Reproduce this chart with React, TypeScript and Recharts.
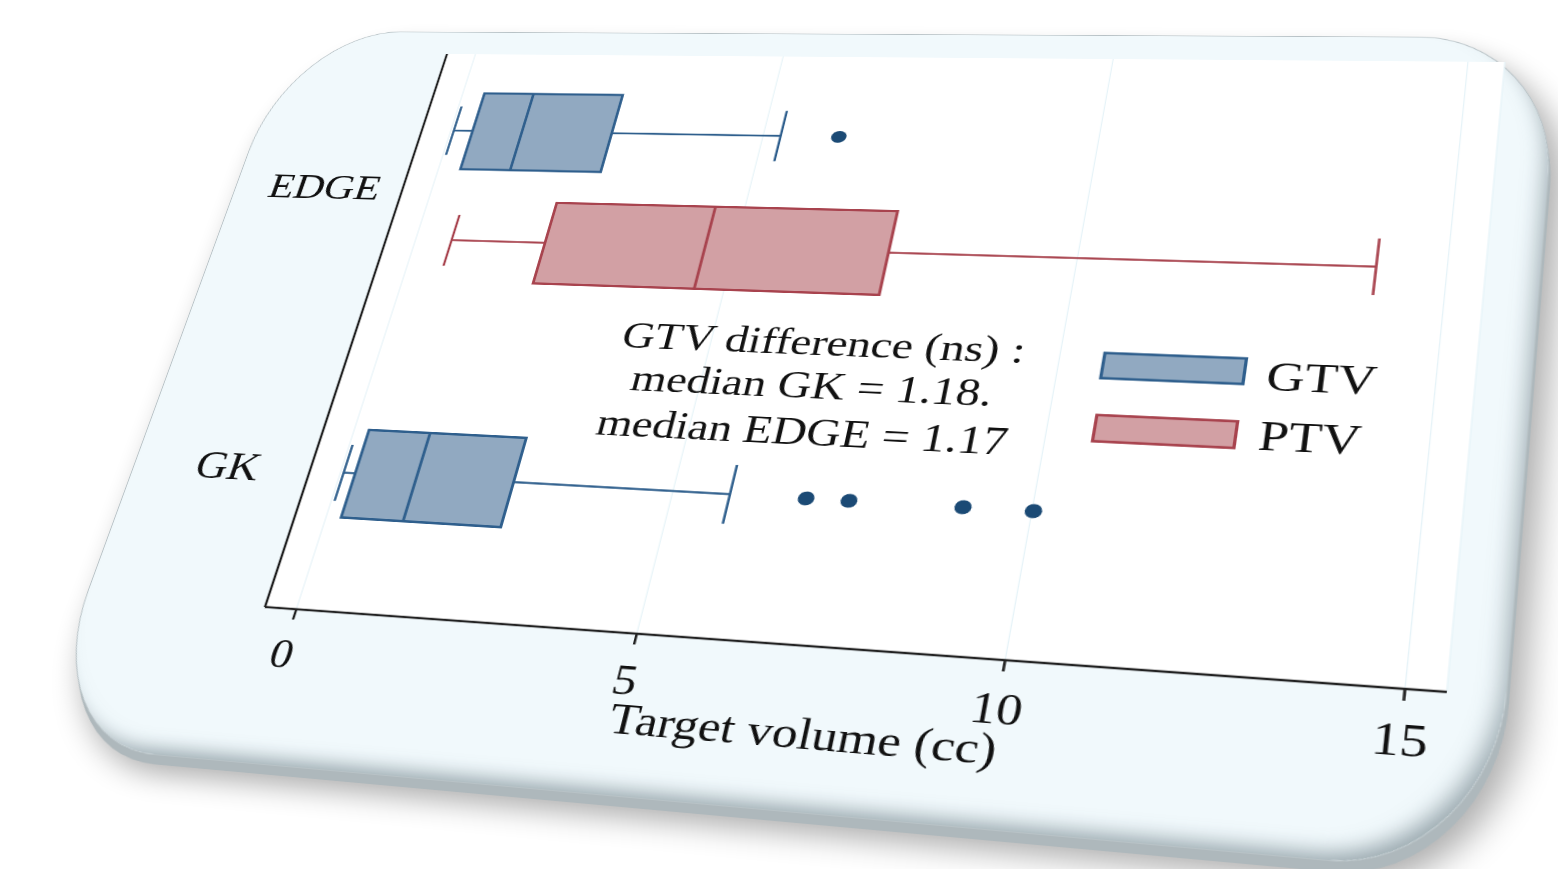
import React from 'react';
import { ComposedChart, Bar, XAxis, YAxis, CartesianGrid } from 'recharts';

// ---------------- data ----------------
const categories = ['EDGE_GTV', 'EDGE_PTV', 'GAP', 'GK_GTV'];
const categoryLabels = ['EDGE', '', '', 'GK'];
const labelShiftBands = [0.55, 0, 0, 0];
const seriesOf = ['GTV', 'PTV', '', 'GTV'];
const whiskerLow: (number | null)[] = [0.05, 0.58, null, 0.05];
const quartile1: (number | null)[] = [0.36, 2.07, null, 0.23];
const medians: (number | null)[] = [1.17, 4.55, null, 1.18];
const quartile3: (number | null)[] = [2.62, 7.29, null, 2.65];
const whiskerHigh: (number | null)[] = [5.27, 14.07, null, 5.82];
const outliers: number[][] = [[6.16], [], [], [6.9, 7.5, 9.07, 10.02]];
const xTicks = [0, 5, 10, 15];
const xDomain = [-0.48, 15.5];
const legendNames = ['GTV', 'PTV'];
const noteLines = ['GTV difference (ns) :', 'median GK = 1.18.', 'median EDGE = 1.17'];
const xTitle = 'Target volume (cc)';

const rows = categories.map((key, i) => ({
  key,
  series: seriesOf[i],
  range: whiskerLow[i] == null ? null : [whiskerLow[i], whiskerHigh[i]],
  q1: quartile1[i],
  median: medians[i],
  q3: quartile3[i],
  outliers: outliers[i],
}));

// ---------------- style ----------------
const FONT = '"Liberation Serif", "Times New Roman", serif';
const COLORS: Record<string, { fill: string; line: string }> = {
  GTV: { fill: '#91a9c1', line: '#2f5f8d' },
  PTV: { fill: '#d2a0a4', line: '#a8434e' },
};
const DOT = '#1b4a75';
const CARD_BG = '#f1f9fc';

// flat layout (before perspective)
const PL = 260, PT = 60, PW = 1100, PH = 730;
const YW = 200, XH = 80;
const FW = PL + PW + 160, FH = PT + PH + XH + 120;
const PAD_TOP = 35, PAD_BOTTOM = 89;
const BAND = (PH - PAD_TOP - PAD_BOTTOM) / categories.length;
const BAR = 108;
const YLABEL_GAP = 89;

// perspective: plot corners on screen
const screenPlot = [[447, 54], [1505, 62], [1447, 692], [265, 607]];
const flatPlot = [[PL, PT], [PL + PW, PT], [PL + PW, PT + PH], [PL, PT + PH]];
const screenCard = [[290, 32], [1558, 37], [1492, 860], [30, 753]];
const screenNotes = [[817, 355], [806, 398], [795, 444]];
const screenLegendBoxes = [[[1105, 353], [1243, 384]], [[1097, 415], [1234, 448]]];
const screenLegendText = [[1265, 390], [1257, 450]];

function solve(A: number[][], b: number[]): number[] {
  const n = b.length;
  const M = A.map((r, i) => [...r, b[i]]);
  for (let c = 0; c < n; c++) {
    let p = c;
    for (let r = c + 1; r < n; r++) if (Math.abs(M[r][c]) > Math.abs(M[p][c])) p = r;
    const t = M[c]; M[c] = M[p]; M[p] = t;
    for (let r = 0; r < n; r++) {
      if (r === c) continue;
      const f = M[r][c] / M[c][c];
      for (let k = c; k <= n; k++) M[r][k] -= f * M[c][k];
    }
  }
  return M.map((r, i) => r[n] / r[i]);
}
function homography(src: number[][], dst: number[][]): number[] {
  const A: number[][] = [];
  const b: number[] = [];
  for (let i = 0; i < 4; i++) {
    const [x, y] = src[i];
    const [u, v] = dst[i];
    A.push([x, y, 1, 0, 0, 0, -x * u, -y * u]); b.push(u);
    A.push([0, 0, 0, x, y, 1, -x * v, -y * v]); b.push(v);
  }
  return [...solve(A, b), 1];
}
function apply(H: number[], p: number[]): number[] {
  const w = H[6] * p[0] + H[7] * p[1] + H[8];
  return [(H[0] * p[0] + H[1] * p[1] + H[2]) / w, (H[3] * p[0] + H[4] * p[1] + H[5]) / w];
}
const Hs = homography(flatPlot, screenPlot);
const Hinv = homography(screenPlot, flatPlot);
const MATRIX = `matrix3d(${Hs[0]},${Hs[3]},0,${Hs[6]},${Hs[1]},${Hs[4]},0,${Hs[7]},0,0,1,0,${Hs[2]},${Hs[5]},0,1)`;

const cardF = screenCard.map((p) => apply(Hinv, p));
const cardLeft = (cardF[0][0] + cardF[3][0]) / 2;
const cardRight = (cardF[1][0] + cardF[2][0]) / 2;
const cardTop = (cardF[0][1] + cardF[1][1]) / 2;
const cardBottom = (cardF[2][1] + cardF[3][1]) / 2;
const notesF = screenNotes.map((p) => apply(Hinv, p));
const legendBoxesF = screenLegendBoxes.map(([a, b]) => [apply(Hinv, a), apply(Hinv, b)]);
const legendTextF = screenLegendText.map((p) => apply(Hinv, p));

// ---------------- marks ----------------
const BoxShape = (props: any) => {
  const { x, y, width, height, payload } = props;
  if (!payload || !payload.range) return null;
  const [lo, hi] = payload.range as number[];
  const k = width / (hi - lo);
  const px = (v: number) => x + (v - lo) * k;
  const cy = y + height / 2;
  const c = COLORS[payload.series];
  const cap = height * 0.32;
  const xq1 = px(payload.q1);
  const xq3 = px(payload.q3);
  const xm = px(payload.median);
  return (
    <g>
      <line x1={px(lo)} x2={xq1} y1={cy} y2={cy} stroke={c.line} strokeWidth={2.5} />
      <line x1={xq3} x2={px(hi)} y1={cy} y2={cy} stroke={c.line} strokeWidth={2.5} />
      <line x1={px(lo)} x2={px(lo)} y1={cy - cap} y2={cy + cap} stroke={c.line} strokeWidth={2.5} />
      <line x1={px(hi)} x2={px(hi)} y1={cy - cap} y2={cy + cap} stroke={c.line} strokeWidth={2.5} />
      <rect x={xq1} y={y} width={xq3 - xq1} height={height} fill={c.fill} stroke={c.line} strokeWidth={3} />
      <line x1={xm} x2={xm} y1={y} y2={y + height} stroke={c.line} strokeWidth={3} />
      {(payload.outliers as number[]).map((v, j) => (
        <circle key={j} cx={px(v)} cy={cy} r={8} fill={DOT} />
      ))}
    </g>
  );
};

const YTick = (props: any) => {
  const { x, y, payload } = props;
  const i = categories.indexOf(payload.value);
  const label = categoryLabels[i];
  if (!label) return null;
  return (
    <text x={x - YLABEL_GAP} y={y + labelShiftBands[i] * BAND} textAnchor="middle" dominantBaseline="central"
      fontSize={48} fontFamily={FONT} fill="#111">
      {label}
    </text>
  );
};

export default function App() {
  return (
    <div style={{ position: 'absolute', left: 0, top: 0, width: 1558, height: 869, overflow: 'hidden', background: '#fff' }}>
      <div style={{ position: 'absolute', left: 0, top: 0, width: FW, height: FH, transformOrigin: '0 0', transform: MATRIX, fontFamily: FONT }}>
        <div style={{
          position: 'absolute', left: cardLeft, top: cardTop, width: cardRight - cardLeft, height: cardBottom - cardTop,
          background: CARD_BG, borderRadius: '130px / 180px', border: '1.5px solid #b8c2c6',
          boxShadow: 'inset -12px -16px 20px -10px rgba(80,100,110,0.55), 4px 12px 0 -2px #aeb8bc, 14px 20px 30px rgba(0,0,0,0.32)',
        }} />
        <div style={{ position: 'absolute', left: 0, top: 0 }}>
          <ComposedChart width={FW} height={FH} layout="vertical" data={rows}
            margin={{ top: PT, left: PL - YW, right: FW - PL - PW, bottom: FH - PT - PH - XH }}>
            <CartesianGrid horizontal={false} vertical stroke="#e6f3f8" strokeWidth={1.2} fill="#ffffff" />
            <XAxis type="number" domain={xDomain} ticks={xTicks} allowDataOverflow height={XH}
              axisLine={{ stroke: '#222', strokeWidth: 2.5 }} tickLine={{ stroke: '#222', strokeWidth: 2.5 }}
              tickSize={12} tickMargin={22}
              tick={{ fontSize: 46, fill: '#111', fontFamily: FONT }}
              label={{ value: xTitle, position: 'bottom', offset: -4, fontSize: 47, fill: '#111', fontFamily: FONT }} />
            <YAxis type="category" dataKey="key" width={YW} padding={{ top: PAD_TOP, bottom: PAD_BOTTOM }}
              axisLine={{ stroke: '#222', strokeWidth: 2.5 }} tickLine={false} tickSize={0} tickMargin={0}
              tick={<YTick />} interval={0} />
            <Bar dataKey="range" barSize={BAR} shape={<BoxShape />} isAnimationActive={false} />
          </ComposedChart>
        </div>
        <svg width={FW} height={FH} style={{ position: 'absolute', left: 0, top: 0, pointerEvents: 'none' }}>
          {noteLines.map((t, i) => (
            <text key={t} x={notesF[i][0]} y={notesF[i][1]} textAnchor="middle" fontSize={46.5} fontFamily={FONT} fill="#111">{t}</text>
          ))}
          {legendNames.map((name, i) => {
            const [a, b] = legendBoxesF[i];
            const c = COLORS[name];
            return (
              <g key={name}>
                <rect x={a[0]} y={a[1]} width={b[0] - a[0]} height={b[1] - a[1]} fill={c.fill} stroke={c.line} strokeWidth={3} />
                <text x={legendTextF[i][0]} y={legendTextF[i][1]} fontSize={48} fontFamily={FONT} fill="#111">{name}</text>
              </g>
            );
          })}
        </svg>
      </div>
    </div>
  );
}
